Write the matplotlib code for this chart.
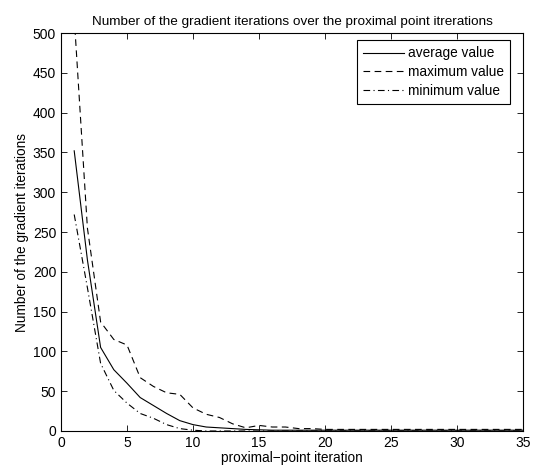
import matplotlib
matplotlib.use("Agg")
import matplotlib.pyplot as plt
import numpy as np

# =========================================================
# data
# =========================================================
iterations = np.arange(1, 36)
average_value = [352, 215, 105, 77, 60, 42, 32, 22, 13, 8, 5, 4, 3, 2, 1.5,
                 1, 1, 1, 1, 1, 1, 1, 1, 1, 1, 1, 1, 1, 1, 1, 1, 1, 1, 1, 1]
maximum_value = [520, 255, 137, 115, 108, 67, 56, 48, 46, 29, 21, 17, 9, 4, 7,
                 5, 5, 3, 3, 2, 2, 2, 2, 2, 2, 2, 2, 2, 2, 2, 2, 2, 2, 2, 2]
minimum_value = [272, 180, 85, 51, 35, 22, 16, 8, 3, 1, 0, 0, 0, 0, 0,
                 0, 0, 0, 0, 0, 0, 0, 0, 0, 0, 0, 0, 0, 0, 0, 0, 0, 0, 0, 0]

# =========================================================
# plotting
# =========================================================
plt.rcParams['font.family'] = ['Liberation Sans', 'DejaVu Sans']

fig = plt.figure(figsize=(5.37, 4.67), dpi=100)
ax = fig.add_axes([0.1136, 0.0771, 0.8604, 0.8522])

ax.plot(iterations, average_value, color='black', lw=0.8, ls='-', label='average value')
ax.plot(iterations, maximum_value, color='black', lw=0.8, ls=(0, (6, 4)), label='maximum value')
ax.plot(iterations, minimum_value, color='black', lw=0.8, ls=(0, (6, 3, 1, 3)), label='minimum value')

ax.set_xlim(0, 35)
ax.set_ylim(0, 500)
ax.set_xticks(range(0, 36, 5))
ax.set_yticks(range(0, 501, 50))
ax.tick_params(direction='in', top=True, right=True, labelsize=10, length=4, width=0.6)
for s in ax.spines.values():
    s.set_linewidth(0.8)

ax.set_xlabel("proximal\u2212point iteration", fontsize=9.8, labelpad=1)
ax.set_ylabel("Number of the gradient iterations", fontsize=9.8, labelpad=3)
ax.set_title("Number of the gradient iterations over the proximal point itrerations",
             fontsize=9.7, pad=6)

leg = ax.legend(loc='upper right', bbox_to_anchor=(0.972, 0.982), fontsize=9.8,
                fancybox=False, framealpha=1, edgecolor='black', borderaxespad=0,
                handlelength=3.0, handletextpad=0.3, labelspacing=0.35, borderpad=0.45)
leg.get_frame().set_linewidth(0.8)

plt.savefig('out.png', dpi=100)
